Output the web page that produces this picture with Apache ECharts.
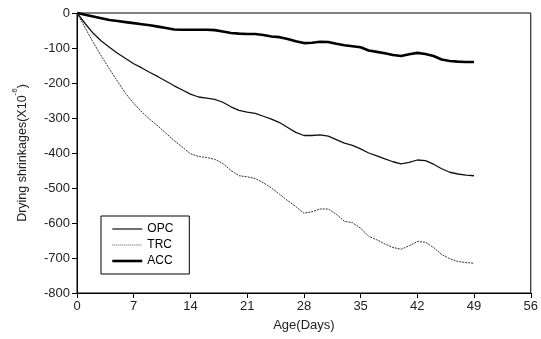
<!DOCTYPE html>
<html><head><meta charset="utf-8">
<script src="https://cdn.jsdelivr.net/npm/echarts@6/dist/echarts.min.js"></script>
<style>html,body{margin:0;padding:0;background:#fff}#c{width:541px;height:339px}</style>
</head><body><div id="c"></div>
<script>
const days = [0,1,2,3,4,5,6,7,8,9,10,11,12,13,14,15,16,17,18,19,20,21,22,23,24,25,26,27,28,29,30,31,32,33,34,35,36,37,38,39,40,41,42,43,44,45,46,47,48,49];
const opc = [0,-30,-58,-80,-98,-115,-130,-145,-157,-170,-182,-195,-208,-220,-232,-240,-243,-247,-255,-268,-278,-283,-287,-295,-303,-313,-327,-341,-350,-350,-348,-352,-362,-372,-378,-388,-400,-408,-417,-425,-431,-427,-420,-422,-432,-445,-455,-460,-463,-465];
const trc = [0,-42,-84,-123,-160,-195,-230,-258,-283,-304,-323,-344,-365,-383,-402,-410,-413,-418,-430,-450,-465,-468,-473,-485,-500,-518,-536,-553,-572,-568,-560,-560,-575,-595,-599,-615,-638,-648,-660,-670,-675,-665,-653,-655,-670,-690,-702,-710,-713,-715];
const acc = [0,-5,-10,-15,-20,-23,-26,-29,-32,-35,-39,-43,-47,-48,-48,-48,-48,-49,-53,-57,-59,-60,-60,-63,-67,-69,-74,-81,-86,-85,-82,-83,-88,-92,-95,-98,-107,-111,-115,-120,-123,-118,-114,-117,-123,-133,-137,-139,-140,-140];
const names = ['OPC','TRC','ACC'];
const xTicks = [0,7,14,21,28,35,42,49,56];
const yTicks = [0,-100,-200,-300,-400,-500,-600,-700,-800];

const pair = arr => days.map((d,i)=>[d,arr[i]]);
const font = 'Liberation Sans, Arial, sans-serif';
const styles = {
  OPC:{color:'#111',width:1.2,type:'solid'},
  TRC:{color:'#555',width:1,type:[1,1]},
  ACC:{color:'#000',width:2.6,type:'solid'}
};
const chart = echarts.init(document.getElementById('c'));
chart.setOption({
  animation:false,
  backgroundColor:'#fff',
  grid:{left:77,right:4,top:13,bottom:46,show:true,borderColor:'#000',borderWidth:1},
  legend:{
    data:names.map(n=>({name:n,lineStyle:styles[n]})), orient:'vertical', left:101, top:216,
    itemWidth:30, itemHeight:8, itemGap:4,
    padding:[7,16,7,10], borderColor:'#000', borderWidth:1,
    itemStyle:{opacity:0},
    textStyle:{fontFamily:font,fontSize:12,color:'#000'}
  },
  xAxis:{
    type:'value', min:0, max:56, interval:7,
    axisLine:{onZero:false,lineStyle:{color:'#000'}},
    axisTick:{inside:false,length:5,lineStyle:{color:'#000'}},
    splitLine:{show:false},
    axisLabel:{fontFamily:font,fontSize:13,color:'#222',margin:7},
    name:'Age(Days)', nameLocation:'middle', nameGap:26,
    nameTextStyle:{fontFamily:font,fontSize:13,color:'#222'}
  },
  yAxis:{
    type:'value', min:-800, max:0, interval:100,
    axisLine:{lineStyle:{color:'#000'}},
    axisTick:{length:5,lineStyle:{color:'#000'}},
    splitLine:{show:false},
    axisLabel:{fontFamily:font,fontSize:13,color:'#222',margin:7},
    name:'{a|Drying shrinkages(X10}{s|-6}{a|)}', nameLocation:'middle', nameGap:48,
    nameTextStyle:{fontFamily:font,fontSize:12.5,color:'#222',
      rich:{a:{fontFamily:font,fontSize:12.5,color:'#222',lineHeight:18,verticalAlign:'bottom'},
            s:{fontFamily:font,fontSize:8,color:'#222',lineHeight:10,verticalAlign:'top'}}}
  },
  series:[
    {name:'OPC',type:'line',data:pair(opc),symbol:'none',itemStyle:{color:'#111'},lineStyle:{color:'#111',width:1.3}},
    {name:'TRC',type:'line',data:pair(trc),symbol:'none',itemStyle:{color:'#333'},lineStyle:{color:'#333',width:1,type:[2,1]}},
    {name:'ACC',type:'line',data:pair(acc),symbol:'none',itemStyle:{color:'#000'},lineStyle:{color:'#000',width:2.6}}
  ]
});
</script></body></html>
